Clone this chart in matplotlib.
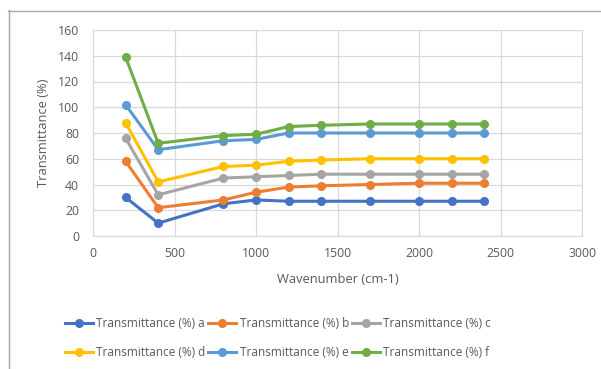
import matplotlib.pyplot as plt
from matplotlib.lines import Line2D

# ---------- data ----------
wavenumber = [200, 400, 800, 1000, 1200, 1400, 1700, 2000, 2200, 2400]
trans_a = [30, 10, 25, 28, 27, 27, 27, 27, 27, 27]
trans_b = [58, 22, 28, 34, 38, 39, 40, 41, 41, 41]
trans_c = [76, 32, 45, 46, 47, 48, 48, 48, 48, 48]
trans_d = [88, 42, 54, 55, 58, 59, 60, 60, 60, 60]
trans_e = [102, 67, 74, 75, 80, 80, 80, 80, 80, 80]
trans_f = [139, 72, 78, 79, 85, 86, 87, 87, 87, 87]

series = [
    ("Transmittance (%) a", trans_a, "#4472C4"),
    ("Transmittance (%) b", trans_b, "#ED7D31"),
    ("Transmittance (%) c", trans_c, "#A5A5A5"),
    ("Transmittance (%) d", trans_d, "#FFC000"),
    ("Transmittance (%) e", trans_e, "#5B9BD5"),
    ("Transmittance (%) f", trans_f, "#70AD47"),
]

TXT = "#595959"
GRID = "#D9D9D9"
plt.rcParams['font.family'] = ['Open Sans', 'DejaVu Sans']

W, H = 601, 369
fig = plt.figure(figsize=(W / 100, H / 100), dpi=100)
ax = fig.add_axes([93 / W, 1 - 236 / H, (582 - 93) / W, (236 - 30) / H])

handles = []
for label, vals, col in series:
    h, = ax.plot(wavenumber, vals, color=col, linewidth=2.2, marker="o",
                 markersize=5.5, label=label)
    handles.append(h)

ax.set_xlim(0, 3000)
ax.set_ylim(0, 160)
ax.set_xticks(range(0, 3001, 500))
ax.set_yticks(range(0, 161, 20))
ax.grid(True, color=GRID, linewidth=0.9)
ax.set_axisbelow(True)
for sp in ax.spines.values():
    sp.set_color(GRID)
ax.tick_params(length=0, labelsize=8.8, colors=TXT)
ax.tick_params(axis="y", pad=10)
ax.tick_params(axis="x", pad=8)
ax.set_xlabel("Wavenumber (cm-1)", fontsize=9.3, color=TXT, labelpad=9)
ax.set_ylabel("Transmittance (%)", fontsize=9.3, color=TXT, labelpad=6)

# legend: rows a b c / d e f (matplotlib fills column-wise)
order = [0, 3, 1, 4, 2, 5]
fig.legend([handles[i] for i in order], [series[i][0] for i in order],
           ncol=3, loc="center left", bbox_to_anchor=(54 / W, 1 - 338 / H),
           frameon=False, fontsize=8.5, labelcolor=TXT, handlelength=2.4,
           handletextpad=0.3, columnspacing=0.2, labelspacing=1.3)

# chart border (cropped Excel chart area)
fig.add_artist(Line2D([8.5 / W, 8.5 / W], [0, 1 - 10 / H], color="#A6A6A6", linewidth=1))
fig.add_artist(Line2D([8 / W, 1], [1 - 10.5 / H, 1 - 10.5 / H], color="#A6A6A6", linewidth=1))

fig.savefig("out.png", dpi=100, facecolor="white")
